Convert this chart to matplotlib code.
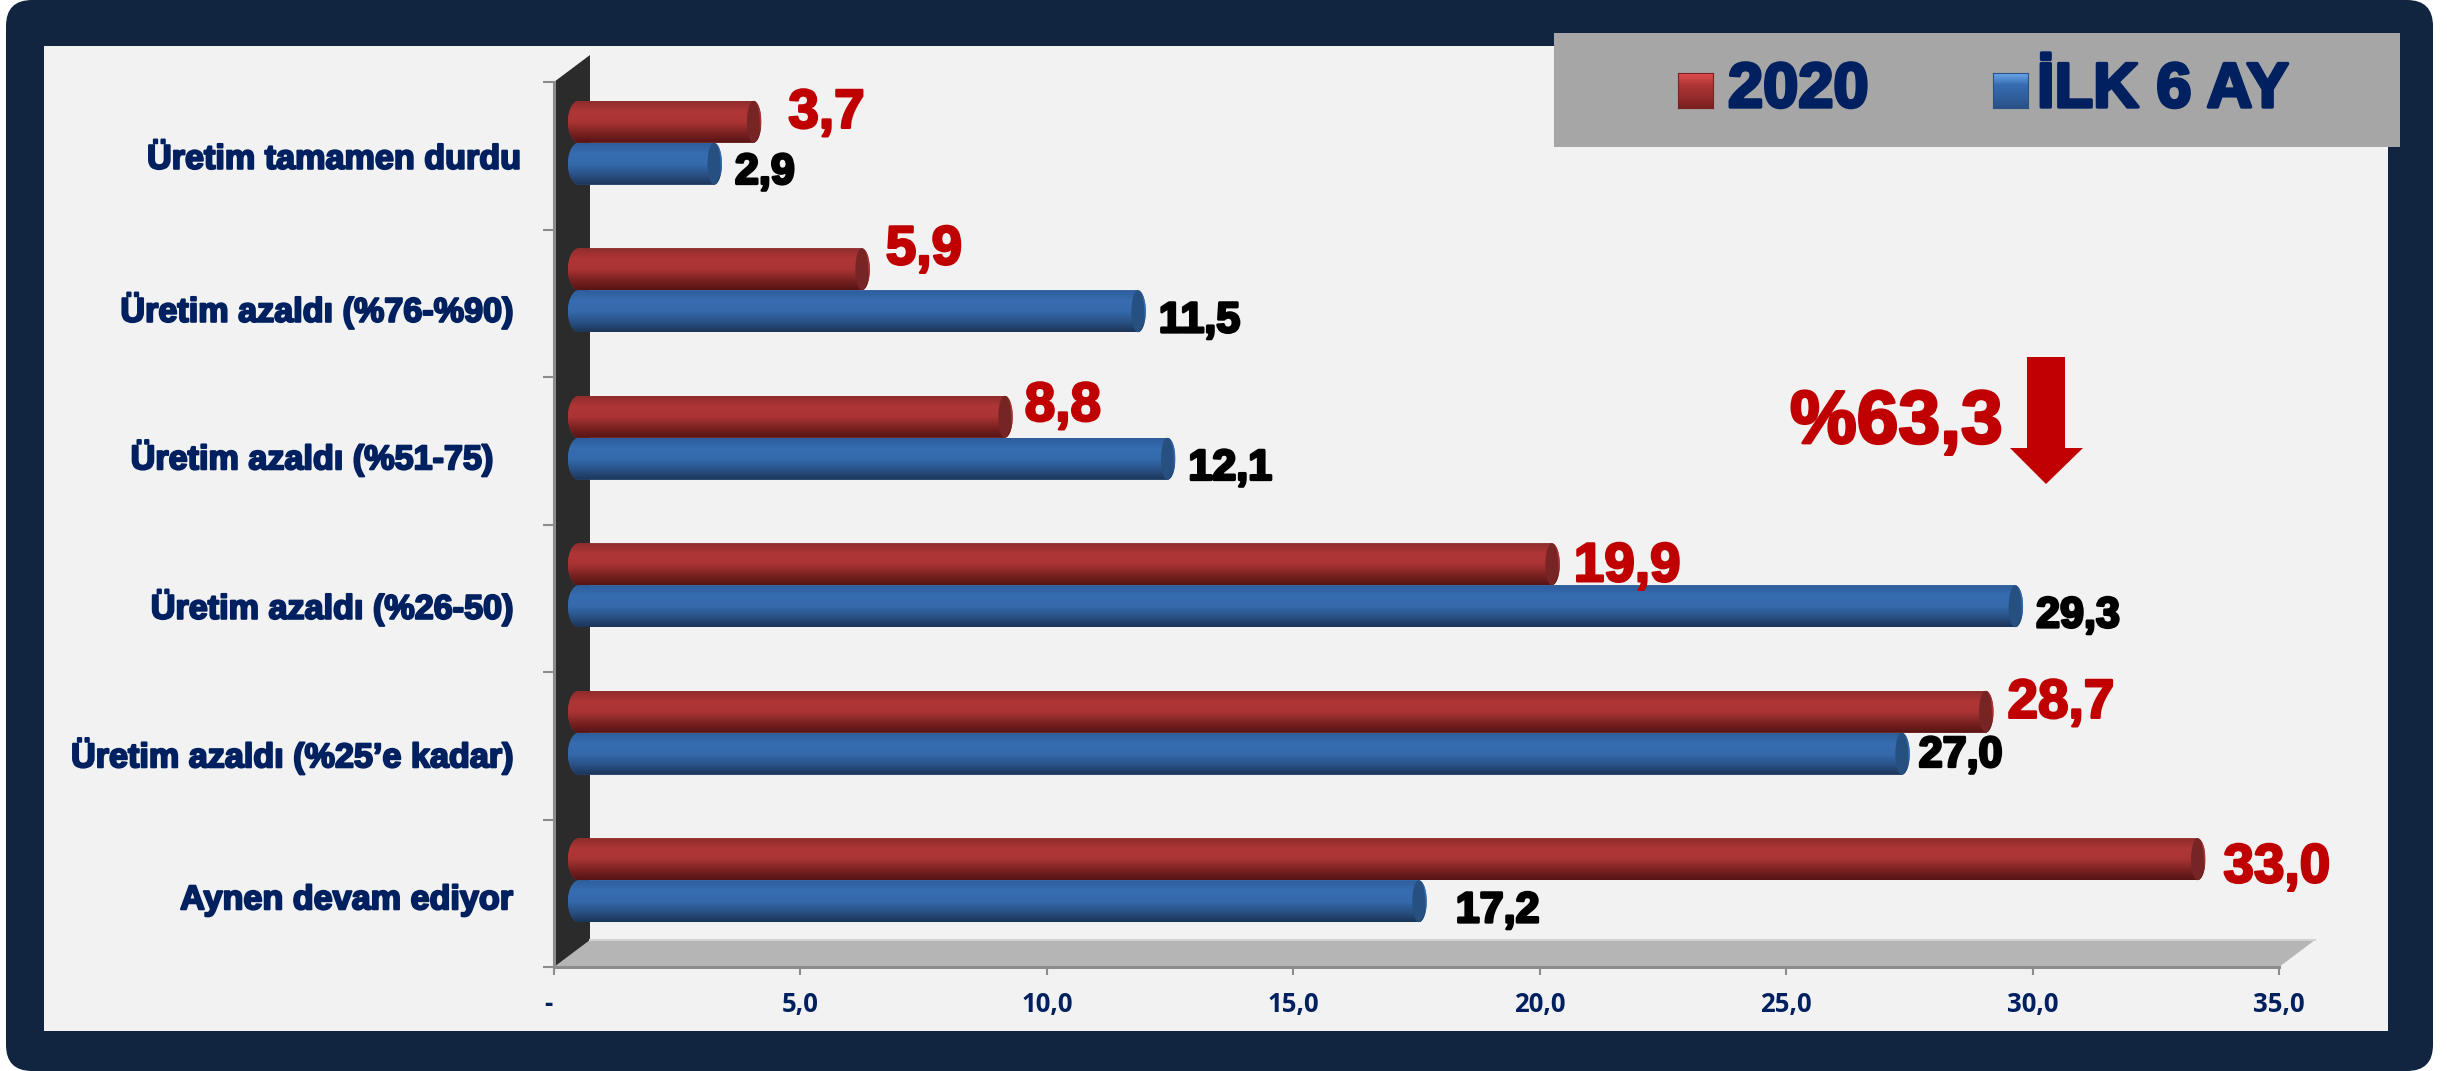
import matplotlib
matplotlib.use("Agg")
import matplotlib.pyplot as plt
import matplotlib.patheffects as pe
import numpy as np
from matplotlib.colors import LinearSegmentedColormap
from matplotlib.patches import FancyBboxPatch, Polygon, Rectangle
from matplotlib.path import Path
from matplotlib.transforms import Affine2D

W, H = 2447, 1071
NAVY = "#002060"
FRAME = "#112540"
DARK_RED = "#c00000"

categories = [
    "Üretim tamamen durdu",
    "Üretim azaldı (%76-%90)",
    "Üretim azaldı (%51-75)",
    "Üretim azaldı (%26-50)",
    "Üretim azaldı (%25’e kadar)",
    "Aynen devam ediyor",
]
values_2020 = [3.7, 5.9, 8.8, 19.9, 28.7, 33.0]
values_6ay = [2.9, 11.5, 12.1, 29.3, 27.0, 17.2]
x_ticks = [0, 5, 10, 15, 20, 25, 30, 35]
x_tick_labels = ["-", "5,0", "10,0", "15,0", "20,0", "25,0", "30,0", "35,0"]
legend_names = ["2020", "İLK 6 AY"]
note_text = "%63,3"

# hand nudges for the data labels, in pixels (the original labels were moved by hand)
red_nudge = [(27, 8), (16, 19), (12, 10), (14, -3), (14, 8), (18, -9)]
blue_nudge = [(13, -9), (13, -10), (13, -10), (13, -10), (9, -2), (29, -10)]
# same for the category labels
cat_nudge = [(8, -1), (0, -4), (-20, -4), (0, -6), (0, -7), (0, -4)]


def px_x(x):
    return x / W


def px_y(y):
    return 1 - y / H


def fat(color, width=1.6):
    return [pe.withStroke(linewidth=width, foreground=color)]


def draw_bars(ax, values, y_centres, height, cmap, cap_color, shift):
    bars = ax.barh(y_centres, values, height=height, color=cmap(0.4), transform=shift)
    grad = np.linspace(0, 1, 64)[:, None]
    left_a, right_a = 11 / 49.3, 8 / 49.3
    t = np.linspace(-np.pi / 2, np.pi / 2, 30)
    for bar, v, yc in zip(bars, values, y_centres):
        # capsule outline, the y axis is inverted so the arcs just follow it
        rx = v - right_a + right_a * np.cos(t)
        ry = yc + height / 2 * np.sin(t)
        lx = -left_a * np.cos(t[::-1])
        ly = yc - height / 2 * np.sin(t)
        verts = np.column_stack([np.r_[rx, lx, rx[0]], np.r_[ry, ly, ry[0]]])
        clip = Path(verts, closed=True)
        bar.set_x(-left_a)
        bar.set_width(v + left_a)
        bar.set_clip_path(clip, shift)
        im = ax.imshow(grad, cmap=cmap, vmin=0, vmax=1, aspect="auto", interpolation="bilinear",
                       extent=(-left_a, v, yc + height / 2, yc - height / 2), transform=shift, zorder=2)
        im.set_clip_path(clip, shift)
        # end of the cylinder
        c = v - right_a
        a = 0.8 * right_a
        ex = c + a * np.cos(2 * t)
        ey = yc + height / 2 * np.sin(2 * t)
        ax.add_patch(Polygon(np.column_stack([ex, ey]), closed=True, facecolor=cap_color,
                             edgecolor="none", transform=shift, zorder=3))


plt.rcParams["font.family"] = ["Liberation Sans", "DejaVu Sans"]
fig = plt.figure(figsize=(W / 100, H / 100), dpi=100, facecolor="white")

# frame and panel
frame = FancyBboxPatch((6 + 26, 26), 2433 - 6 - 52, 1071 - 52, boxstyle="round,pad=26",
                       transform=Affine2D(), facecolor=FRAME, edgecolor="none", zorder=-3)
fig.add_artist(frame)
fig.add_artist(Rectangle((px_x(44), px_y(1031)), (2388 - 44) / W, (1031 - 46) / H, transform=fig.transFigure,
                         facecolor="#f2f2f2", edgecolor="none", zorder=-2))

# plot area, x=0 at px 554 and x=35 at px 2279
ax = fig.add_axes([px_x(554), px_y(967), (2279 - 554) / W, (967 - 82) / H])
ax.patch.set_visible(False)

n = len(categories)
dx, dy = 36 / 49.3, 27 / 147.5
wall = Polygon([(0, 0), (dx, -dy), (dx, n - dy), (0, n)], closed=True, facecolor="#2b2b2b",
               edgecolor="none", clip_on=False, zorder=1)
floor = Polygon([(0, n), (35, n), (35 + dx, n - dy), (dx, n - dy)], closed=True, facecolor="#b5b5b5",
                edgecolor="none", clip_on=False, zorder=1)
ax.add_patch(floor)
ax.add_patch(wall)
ax.plot([dx, 35 + dx], [n - dy, n - dy], color="#d2d2d2", lw=1.5, clip_on=False, zorder=1)

shift = Affine2D().translate(25, 13)
shift_tr = ax.transData + shift

bar_h = 42 / 147.5
y_pos = np.arange(n) + 0.5
red_cmap = LinearSegmentedColormap.from_list("r", ["#8f2c2c", "#b03636", "#aa3434", "#7d2222", "#571414"])
blue_cmap = LinearSegmentedColormap.from_list("b", ["#2d5d9b", "#376db1", "#346aab", "#2a5288", "#1c3558"])
draw_bars(ax, values_2020, y_pos - bar_h / 2, bar_h, red_cmap, "#772424", shift_tr)
draw_bars(ax, values_6ay, y_pos + bar_h / 2, bar_h, blue_cmap, "#25507f", shift_tr)

for v, yc, nudge in zip(values_2020, y_pos - bar_h / 2, red_nudge):
    ax.annotate(f"{v:.1f}".replace(".", ","), xy=(v, yc), xycoords=shift_tr, xytext=nudge,
                textcoords="offset pixels", ha="left", va="center", color=DARK_RED, fontsize=39.5,
                fontweight="bold", path_effects=fat(DARK_RED, 1.8), zorder=5)
for v, yc, nudge in zip(values_6ay, y_pos + bar_h / 2, blue_nudge):
    ax.annotate(f"{v:.1f}".replace(".", ","), xy=(v, yc), xycoords=shift_tr, xytext=nudge,
                textcoords="offset pixels", ha="left", va="center", color="black", fontsize=31,
                fontweight="bold", path_effects=fat("black", 2.0), zorder=5)

ax.set_xlim(0, 35)
ax.set_ylim(n, 0)
ax.set_xticks(x_ticks, x_tick_labels, fontsize=18.5, fontweight="bold", color=NAVY, family="Open Sans")
ax.set_yticks(np.arange(n + 1), [""] * (n + 1))
ax.set_yticks(y_pos, categories, minor=True, fontsize=24.6, fontweight="bold", color=NAVY)
ax.tick_params(axis="x", length=6, width=1.5, color="#8c8c8c", pad=11)
ax.tick_params(axis="y", which="major", length=8, width=1.5, color="#8c8c8c")
ax.tick_params(axis="y", which="minor", length=0, pad=29.5)
for spine in ["top", "right"]:
    ax.spines[spine].set_visible(False)
for spine in ["left", "bottom"]:
    ax.spines[spine].set_color("#8c8c8c")
    ax.spines[spine].set_linewidth(2.2)
for tick, nudge in zip(ax.yaxis.get_minor_ticks(), cat_nudge):
    tick.label1.set_transform(tick.label1.get_transform() + Affine2D().translate(*nudge))
    tick.label1.set_path_effects(fat(NAVY, 1.5))
zero_label = ax.xaxis.get_major_ticks()[0].label1
zero_label.set_transform(zero_label.get_transform() + Affine2D().translate(-6, 0))

# legend strip
fig.add_artist(Rectangle((px_x(1554), px_y(147)), (2400 - 1554) / W, (147 - 33) / H, transform=fig.transFigure,
                         facecolor="#a6a6a6", edgecolor="none", zorder=6))
swatches = [(1678, red_cmap, "#e05050", "#7a2020"), (1993, blue_cmap, "#6aa8ea", "#2a5288")]
label_x = [1728, 2037]
for (sx, cmap, light, edge), lx, name in zip(swatches, label_x, legend_names):
    sw_ax = fig.add_axes([px_x(sx), px_y(108), 35 / W, 35 / H], zorder=7)
    sw_ax.imshow(np.linspace(0, 1, 32)[:, None], aspect="auto",
                 cmap=LinearSegmentedColormap.from_list("s", [light, cmap(0.3), cmap(0.6), edge]))
    sw_ax.set_xticks([])
    sw_ax.set_yticks([])
    for sp in sw_ax.spines.values():
        sp.set_color(edge)
    fig.text(px_x(lx), px_y(107), name, ha="left", va="baseline", color=NAVY, fontsize=45.5, fontweight="bold",
             path_effects=fat(NAVY, 2.4), zorder=8)

# note with the down arrow
fig.text(px_x(1790), px_y(443), note_text, ha="left", va="baseline", color=DARK_RED, fontsize=54,
         fontweight="bold", path_effects=fat(DARK_RED, 2.0), zorder=8)
arrow = [(2027, 357), (2065, 357), (2065, 448), (2083, 448), (2046, 484), (2010, 448), (2027, 448)]
fig.add_artist(Polygon([(px_x(x), px_y(y)) for x, y in arrow], closed=True, transform=fig.transFigure,
                       facecolor=DARK_RED, edgecolor="none", zorder=8))

fig.savefig("out.png", dpi=100, facecolor="white")
